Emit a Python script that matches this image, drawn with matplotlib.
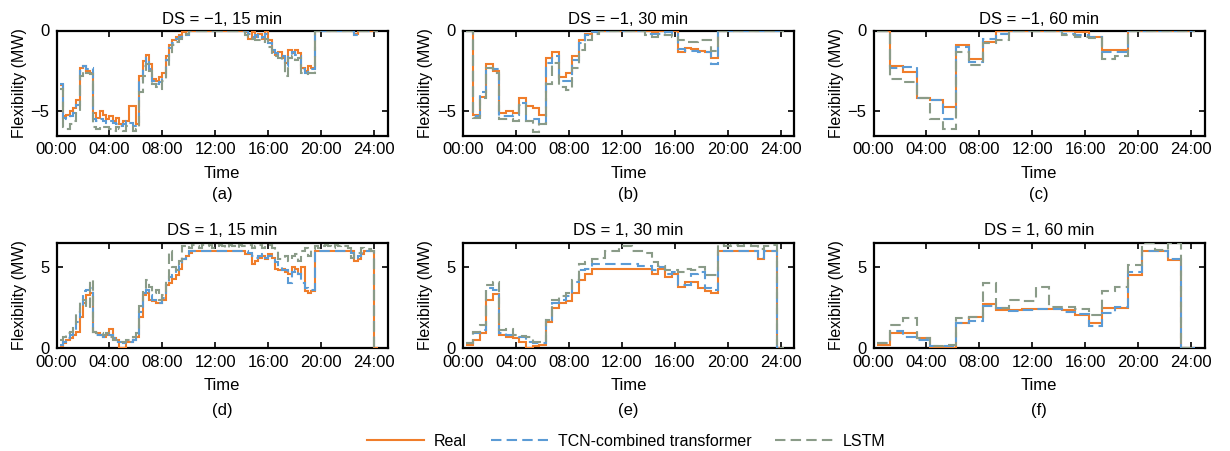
import numpy as np
import matplotlib
matplotlib.use('Agg')
import matplotlib.pyplot as plt
from matplotlib.lines import Line2D

plt.rcParams['font.family'] = ['Liberation Sans', 'DejaVu Sans']
plt.rcParams['font.size'] = 12

# DS = -1, 15 min (96 steps)
real_m1_15 = [-3.4, -5.3, -5.2, -5.0, -4.8, -4.3, -2.3, -2.2, -2.5, -2.6,
              -5.1, -5.4, -5.0, -5.2, -5.5, -5.3, -5.6, -5.4, -5.8, -5.6,
              -5.6, -4.7, -4.7, -5.8, -2.8, -1.9, -1.5, -2.1, -3.0, -3.1,
              -2.9, -2.6, -1.6, -0.9, -0.6, -0.4, -0.3, -0.1, 0, 0,
              0, 0, 0, 0, 0, 0, 0, 0, 0, 0,
              0, 0, 0, 0, 0, 0,
              -0.1, -0.5, -0.1, -0.4, -0.2, -0.5, 0, -0.6, -1.3, -1.5,
              -1.3, -1.7, -2.0, -1.2, -1.4, -1.2, -1.4, -2.3, -2.5, -2.2,
              -2.3, 0, 0, 0, 0, 0, 0, 0, 0, 0,
              0, 0, 0, -0.2, 0, 0, 0, 0, 0, 0]
tcn_m1_15 = [-3.3, -5.4, -5.5, -5.3, -5.1, -4.6, -2.5, -2.2, -2.4, -2.3,
             -5.5, -5.6, -5.5, -5.6, -5.7, -5.6, -5.7, -5.8, -5.9, -5.8,
             -5.6, -5.7, -5.9, -5.9, -3.0, -2.2, -1.7, -2.4, -3.1, -3.3,
             -3.2, -2.8, -1.8, -1.1, -0.8, -0.5, -0.4, -0.2, -0.3, 0,
             0, 0, 0, 0, 0, 0, 0, 0, 0, 0,
             0, 0, 0, 0, 0, 0,
             0, -0.2, -0.4, -0.3, -0.5, -0.4, -0.2, -0.8, -1.2, -1.4,
             -1.5, -1.6, -2.2, -1.5, -1.3, -1.5, -1.6, -2.4, -2.6, -2.4,
             -2.4, 0, 0, 0, 0, 0, 0, 0, 0, 0,
             0, 0, 0, -0.3, 0, 0, 0, 0, 0, 0]
lstm_m1_15 = [-3.6, -6.0, -6.1, -5.8, -5.6, -5.0, -2.8, -2.5, -2.6, -2.7,
              -6.0, -6.1, -5.9, -6.0, -6.0, -6.1, -6.2, -6.0, -6.1, -6.2,
              -5.9, -6.0, -6.2, -6.1, -3.8, -2.8, -2.1, -2.5, -3.3, -3.5,
              -3.6, -3.1, -2.3, -1.5, -0.9, -0.7, -0.5, -0.3, -0.2, 0,
              0, 0, 0, 0, 0, 0, 0, 0, 0, 0,
              0, 0, 0, 0, 0, 0,
              -0.3, -0.4, -0.5, -0.6, -0.6, -0.7, -0.5, -1.0, -1.5, -1.6,
              -1.7, -1.8, -2.8, -1.7, -1.6, -1.8, -1.7, -2.6, -2.7, -2.6,
              -2.6, 0, 0, 0, 0, 0, 0, 0, 0, 0,
              0, 0, 0, 0, 0, 0, 0, 0, 0, 0]

# DS = -1, 30 min (48 steps)
real_m1_30 = [0, -5.2, -4.1, -2.1, -2.5, -5.1, -5.0, -5.1, -4.2, -4.7,
              -4.8, -5.2, -1.7, -1.35, -2.9, -2.6, -1.55, -0.6, -0.2, 0,
              0, 0, 0, 0, 0, 0, 0, 0, -0.1, 0, 0, 0,
              -1.35, -1.1, -1.15, -1.25, -1.3, -1.7,
              0, 0, 0, 0, 0, 0, 0, 0, 0, 0]
tcn_m1_30 = [0, -5.3, -3.8, -2.3, -2.4, -5.3, -5.3, -5.2, -4.5, -5.6,
             -5.5, -5.7, -2.0, -1.6, -3.1, -3.1, -1.8, -0.8, -0.3, -0.1,
             0, 0, 0, 0, 0, 0, 0, -0.2, -0.2, -0.2, -0.1, -0.2,
             -1.15, -1.25, -1.25, -1.3, -1.3, -2.1,
             0, 0, 0, 0, 0, 0, 0, 0, 0, 0]
lstm_m1_30 = [0, -5.4, -4.2, -2.3, -2.6, -5.5, -5.5, -5.6, -4.6, -5.6,
              -6.3, -5.8, -3.3, -2.0, -3.5, -3.7, -2.3, -1.2, -0.6, -0.2,
              0, 0, 0, 0, 0, 0, 0, -0.3, -0.4, -0.3, -0.3, -0.4,
              -0.6, -0.7, -0.7, -0.6, -0.6, -1.25,
              0, 0, 0, 0, 0, 0, 0, 0, 0, 0]

# DS = -1, 60 min (24 steps)
real_m1_60 = [0, -2.2, -2.55, -4.2, -4.3, -4.75, -0.9, -1.75, -0.7, 0, 0, 0,
              0, 0, 0, -0.1, -0.4, -1.2, -1.2, 0, 0, 0, 0, 0]
tcn_m1_60 = [0, -2.3, -2.25, -4.2, -4.3, -5.5, -1.0, -1.95, -0.5, -0.2, 0, 0,
             0, 0, -0.2, -0.3, -0.4, -1.3, -1.3, 0, 0, 0, 0, 0]
lstm_m1_60 = [0, -3.0, -3.2, -4.2, -5.5, -6.1, -1.3, -2.15, -0.8, -0.6, 0, 0,
              0, 0, -0.3, -0.4, -0.45, -1.75, -1.6, 0, 0, 0, 0, 0]

# DS = 1, 15 min
real_p1_15 = [0.15, 0.3, 0.5, 0.6, 0.8, 1.0, 1.9, 2.8, 3.3, 3.4,
              1.0, 0.9, 0.8, 0.7, 0.8, 1.2, 0.6, 0.5, 0.0, 0.0,
              0.4, 0.4, 0.5, 0.7, 1.9, 3.3, 3.4, 3.0, 2.9, 2.8,
              2.8, 3.0, 3.9, 4.0, 4.3, 4.5, 4.9, 5.5, 5.7, 5.9,
              6.0, 6.0, 6.0, 6.0, 6.0, 6.0, 6.0, 6.0, 6.0, 6.0,
              6.0, 6.0, 6.0, 6.0, 6.0, 6.0,
              5.8, 5.8, 5.2, 5.4, 5.6, 5.7, 5.5, 5.8, 5.6, 4.9,
              4.8, 4.9, 4.7, 4.6, 5.0, 4.9, 4.6, 5.0, 3.5, 3.4,
              3.5, 6.0, 6.0, 6.0, 6.0, 6.0, 6.0, 6.0, 6.0, 6.0,
              6.0, 6.0, 6.0, 5.4, 5.5, 5.8, 6.0, 6.0, 6.0, 0.0]
tcn_p1_15 = [0.2, 0.35, 0.6, 0.8, 1.0, 1.6, 2.6, 3.5, 3.6, 3.7,
             1.0, 0.8, 0.8, 0.7, 0.7, 0.8, 0.6, 0.4, 0.4, 0.3,
             0.3, 0.4, 0.5, 0.6, 2.2, 3.4, 3.6, 3.3, 3.0, 2.8,
             2.8, 3.1, 3.9, 4.4, 4.5, 4.8, 5.1, 5.5, 5.8, 6.0,
             6.0, 6.0, 6.0, 6.0, 6.0, 6.0, 6.0, 6.0, 6.0, 6.0,
             6.0, 6.0, 6.0, 6.0, 6.0, 6.0,
             6.0, 5.9, 5.7, 5.6, 5.7, 5.8, 5.6, 5.7, 5.7, 5.3,
             5.0, 4.8, 4.8, 4.0, 4.7, 4.8, 4.6, 4.0, 3.7, 3.6,
             3.6, 6.0, 6.0, 6.0, 6.0, 6.0, 6.0, 6.0, 6.0, 6.0,
             6.0, 6.0, 5.9, 5.5, 5.7, 5.9, 6.0, 6.0, 6.0, 0.0]
lstm_p1_15 = [0.5, 0.7, 0.9, 1.0, 1.4, 2.2, 2.9, 3.0, 2.5, 4.2,
              1.0, 0.9, 0.9, 0.8, 0.9, 0.7, 0.5, 0.5, 0.4, 0.4,
              0.5, 0.5, 0.7, 0.9, 2.6, 3.6, 4.2, 3.8, 3.4, 3.6,
              3.0, 3.3, 4.3, 6.0, 5.0, 4.8, 5.4, 6.3, 6.4, 6.2,
              6.4, 6.3, 6.2, 6.4, 6.3, 6.4, 6.2, 6.3, 6.4, 6.3,
              6.2, 6.4, 6.3, 6.2, 6.4, 6.3,
              6.3, 6.4, 6.2, 6.3, 6.4, 6.2, 6.3, 6.4, 6.2, 6.0,
              5.5, 5.6, 5.7, 5.4, 5.7, 5.8, 5.4, 6.0, 6.2, 5.7,
              6.1, 6.3, 6.2, 6.3, 6.4, 6.3, 6.2, 6.4, 6.3, 6.4,
              6.3, 6.2, 5.6, 5.8, 5.9, 6.2, 6.1, 6.1, 6.0, 0.0]

# DS = 1, 30 min
real_p1_30 = [0.2, 0.5, 0.9, 3.0, 3.35, 0.8, 0.7, 0.6, 0.4, 0.0,
              0.15, 0.2, 1.6, 2.5, 2.8, 2.9, 3.4, 4.2, 4.6, 4.9,
              4.9, 4.9, 4.9, 4.9, 4.9, 4.9, 4.9, 4.9,
              4.6, 4.9, 4.4, 4.6, 3.8, 4.1, 4.1, 3.7, 3.5, 3.4,
              6.0, 6.0, 6.0, 6.0, 6.0, 6.0, 5.5, 6.0, 6.0, 0.0]
tcn_p1_30 = [0.3, 0.9, 1.1, 3.7, 3.6, 0.9, 0.8, 0.8, 0.7, 0.4,
             0.3, 0.3, 1.75, 2.8, 3.0, 3.2, 4.1, 4.8, 4.9, 5.2,
             5.2, 5.2, 5.2, 5.2, 5.2, 5.2, 5.1, 5.1,
             4.8, 5.0, 4.6, 4.7, 3.9, 3.9, 4.6, 4.7, 3.7, 3.6,
             6.0, 6.0, 6.0, 6.0, 6.0, 6.0, 5.6, 6.0, 6.0, 0.0]
lstm_p1_30 = [0.3, 1.0, 1.4, 3.9, 4.1, 1.1, 1.2, 0.8, 0.75, 0.7,
              0.4, 0.4, 1.75, 3.0, 3.2, 3.4, 4.2, 5.2, 5.3, 5.5,
              5.6, 6.0, 6.0, 6.3, 6.3, 6.0, 6.0, 5.9,
              5.3, 5.1, 4.8, 4.8, 4.7, 4.9, 4.8, 5.0, 4.5, 4.5,
              6.4, 6.3, 6.4, 6.3, 6.4, 6.3, 6.1, 6.3, 6.4, 0.0]

# DS = 1, 60 min
real_p1_60 = [0.2, 0.95, 0.9, 0.6, 0, 0, 1.55, 1.9, 2.7, 2.35, 2.35, 2.4,
              2.4, 2.4, 2.35, 2.05, 1.55, 2.45, 2.45, 4.5, 6.0, 6.0, 5.45, 0]
tcn_p1_60 = [0.3, 1.05, 0.7, 0.5, 0.1, 0.1, 1.55, 1.65, 2.6, 2.45, 2.3, 2.35,
             2.4, 2.4, 2.25, 2.1, 1.35, 2.15, 2.55, 4.7, 6.0, 6.0, 5.5, 0]
lstm_p1_60 = [0.3, 1.45, 1.85, 0.6, 0.1, 0.2, 1.85, 1.9, 4.0, 2.45, 3.0, 2.9,
              3.75, 2.55, 2.55, 2.4, 2.05, 3.5, 3.75, 5.15, 6.5, 6.05, 6.5, 0]

titles = ['DS = \u22121, 15 min', 'DS = \u22121, 30 min', 'DS = \u22121, 60 min',
          'DS = 1, 15 min', 'DS = 1, 30 min', 'DS = 1, 60 min']
tags = ['(a)', '(b)', '(c)', '(d)', '(e)', '(f)']
steps = [0.25, 0.5, 1.0, 0.25, 0.5, 1.0]
series = [(real_m1_15, tcn_m1_15, lstm_m1_15),
          (real_m1_30, tcn_m1_30, lstm_m1_30),
          (real_m1_60, tcn_m1_60, lstm_m1_60),
          (real_p1_15, tcn_p1_15, lstm_p1_15),
          (real_p1_30, tcn_p1_30, lstm_p1_30),
          (real_p1_60, tcn_p1_60, lstm_p1_60)]
hour_ticks = [0, 4, 8, 12, 16, 20, 24]
hour_labels = ['00:00', '04:00', '08:00', '12:00', '16:00', '20:00', '24:00']

c_real = '#F07D2A'
c_tcn = '#5B9BD5'
c_lstm = '#8A9B88'
styles = [dict(color=c_real, linestyle='-'),
          dict(color=c_tcn, linestyle=(0, (5, 2.5))),
          dict(color=c_lstm, linestyle=(0, (5, 2.5)))]

W, H = 1230, 451
fig = plt.figure(figsize=(W / 100, H / 100), dpi=100)

lefts = [56.5, 463, 873.5]
ax_w = 331
tops = [30.5, 243]
ax_h = 105

for i in range(6):
    row, col = divmod(i, 3)
    ax = fig.add_axes([lefts[col] / W, 1 - (tops[row] + ax_h) / H, ax_w / W, ax_h / H])
    step = steps[i]
    for vals, st in zip(series[i], styles):
        edges = 0.25 + step * np.arange(len(vals) + 1)
        ax.stairs(vals, edges, baseline=None, linewidth=1.5, zorder=3, **st)
    ax.set_xlim(0, 25)
    if row == 0:
        ax.set_ylim(-6.5, 0)
        ax.set_yticks([-5, 0])
    else:
        ax.set_ylim(0, 6.5)
        ax.set_yticks([0, 5])
    ax.set_xticks(hour_ticks)
    ax.set_xticklabels(hour_labels)
    ax.tick_params(direction='in', top=True, right=True, length=4, width=1.2)
    ax.tick_params(axis='x', pad=5)
    ax.tick_params(axis='y', pad=5)
    for s in ax.spines.values():
        s.set_linewidth(1.6)
    ax.set_title(titles[i], fontsize=12, pad=5 if row == 0 else 6)
    ax.set_xlabel('Time', labelpad=6)
    ax.set_ylabel('Flexibility (MW)', fontsize=11.5)
    ax.yaxis.set_label_coords(-0.09, 0.5)
    ax.text(0.5, -0.56 if row == 0 else -0.6, tags[i], transform=ax.transAxes,
            ha='center', va='center')

handles = [Line2D([], [], linewidth=1.5, **st) for st in styles]
fig.legend(handles, ['Real', 'TCN-combined transformer', 'LSTM'],
           loc='center', bbox_to_anchor=(0.509, 0.022), ncol=3, frameon=False,
           fontsize=11.5, handlelength=3.6, handletextpad=0.6, columnspacing=1.5)

fig.savefig('out.png', dpi=100)
